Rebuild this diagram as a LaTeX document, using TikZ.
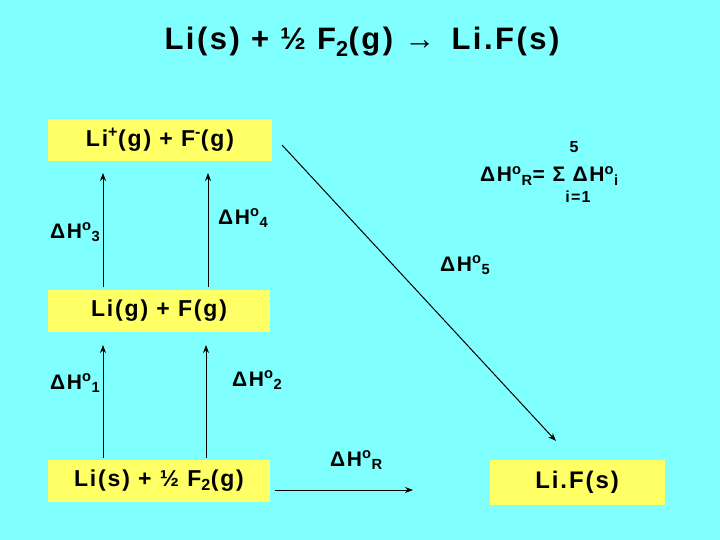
\documentclass[tikz,border=0pt]{standalone}
\usepackage{fontspec}
\setmainfont{Liberation Sans}[LetterSpace=8]
\usetikzlibrary{arrows.meta}
\definecolor{bg}{RGB}{128,255,255}
\definecolor{yb}{RGB}{255,255,102}
\begin{document}
\begin{tikzpicture}[x=1pt,y=-1pt,
  box/.style={fill=yb,inner sep=0pt,minimum height=42pt,font=\fontsize{23}{28}\selectfont\bfseries},
  lab/.style={font=\fontsize{21}{24}\selectfont\bfseries,inner sep=0pt},
  arr/.style={-{Stealth[length=8pt,width=6pt]},line width=1pt}]
\fill[bg] (0,0) rectangle (720,540);
\useasboundingbox (0,0) rectangle (720,540);
\node[font=\fontsize{31}{36}\selectfont\bfseries] (title) at (362,42) {Li(s) + ½ F\textsubscript{2}(g) →\, Li.F(s)};
\node[box,minimum width=224pt] (b1) at (160,140) {Li\textsuperscript{+}(g) + F\textsuperscript{-}(g)};
\node[box,minimum width=222pt] (b2) at (159,311) {Li(g) + F(g)};
\node[box,minimum width=222pt] (b3) at (159,481) {Li(s) + ½ F\textsubscript{2}(g)};
\node[box,minimum width=175pt,minimum height=45pt,font=\fontsize{24}{30}\selectfont\bfseries] (b4) at (577,482) {Li.F(s)};
\coordinate (a1s) at (103,458); \coordinate (a1e) at (103,345);
\coordinate (a2s) at (206,458); \coordinate (a2e) at (206,345);
\coordinate (a3s) at (103,287); \coordinate (a3e) at (103,173);
\coordinate (a4s) at (208,287); \coordinate (a4e) at (208,173);
\coordinate (ds) at (282,145); \coordinate (de) at (556,441);
\coordinate (hs) at (275,490); \coordinate (he) at (413,490);
\draw[arr] (a1s) -- (a1e);
\draw[arr] (a2s) -- (a2e);
\draw[arr] (a3s) -- (a3e);
\draw[arr] (a4s) -- (a4e);
\draw[arr] (ds) -- (de);
\draw[arr] (hs) -- (he);
\node[lab,anchor=west] (h3) at (50,232) {ΔH\textsuperscript{o}\textsubscript{3}};
\node[lab,anchor=west] (h4) at (218,218) {ΔH\textsuperscript{o}\textsubscript{4}};
\node[lab,anchor=west] (h5) at (440,265) {ΔH\textsuperscript{o}\textsubscript{5}};
\node[lab,anchor=west] (h1) at (50,383) {ΔH\textsuperscript{o}\textsubscript{1}};
\node[lab,anchor=west] (h2) at (232,380) {ΔH\textsuperscript{o}\textsubscript{2}};
\node[lab,anchor=west] (hr) at (330,460) {ΔH\textsuperscript{o}\textsubscript{R}};
\node[lab,anchor=west] (f) at (480,176) {ΔH\textsuperscript{o}\textsubscript{R}= Σ ΔH\textsuperscript{o}\textsubscript{i}};
\node[font=\fontsize{16}{18}\selectfont\bfseries,inner sep=0pt] (up) at (574,147) {5};
\node[font=\fontsize{16}{18}\selectfont\bfseries,inner sep=0pt] (lo) at (578,197) {i=1};
\end{tikzpicture}
\end{document}
